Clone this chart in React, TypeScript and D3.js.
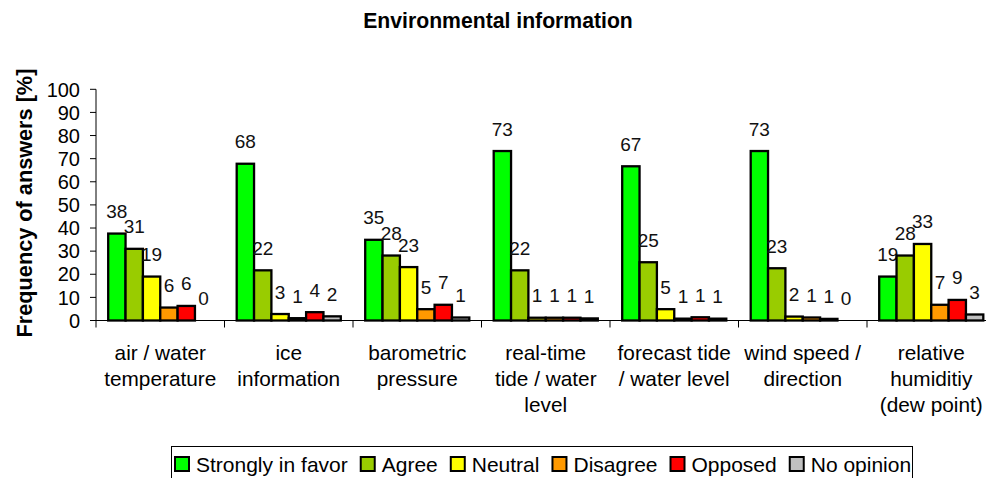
import React from "react";
import * as d3 from "d3";

const title = "Environmental information";
const yAxisTitle = "Frequency of answers [%]";
const categories = [
  "air / water\ntemperature",
  "ice\ninformation",
  "barometric\npressure",
  "real-time\ntide / water\nlevel",
  "forecast tide\n/ water level",
  "wind speed /\ndirection",
  "relative\nhumiditiy\n(dew point)",
];
const seriesNames = ["Strongly in favor", "Agree", "Neutral", "Disagree", "Opposed", "No opinion"];
const seriesColors = ["#00FF00", "#99CC00", "#FFFF00", "#FF9900", "#FF0000", "#C0C0C0"];
const stronglyInFavor = [37.6, 67.8, 34.9, 73.3, 66.7, 73.3, 19.0];
const agree = [31.0, 21.7, 28.1, 21.7, 25.2, 22.6, 28.1];
const neutral = [19.0, 2.8, 23.1, 1.2, 4.9, 1.7, 33.1];
const disagree = [5.6, 1.0, 4.9, 1.2, 0.8, 1.3, 6.8];
const opposed = [6.3, 3.6, 6.8, 1.2, 1.4, 0.7, 8.9];
const noOpinion = [0, 1.8, 1.3, 0.9, 0.8, 0, 2.6];
const yTicks = [0, 10, 20, 30, 40, 50, 60, 70, 80, 90, 100];

const seriesValues = [stronglyInFavor, agree, neutral, disagree, opposed, noOpinion];

const W = 986;
const H = 478;
const FONT = '"Liberation Sans", Arial, sans-serif';

function measure(text: string, size: number, weight = "normal") {
  const c = document.createElement("canvas").getContext("2d");
  if (!c) return text.length * size * 0.5;
  c.font = `${weight} ${size}px ${FONT}`;
  return c.measureText(text).width;
}

export default function App() {
  const plotLeft = 96;
  const bandW = 128.5;
  const x = d3
    .scaleBand<number>()
    .domain(categories.map((_, i) => i))
    .range([plotLeft, plotLeft + bandW * categories.length])
    .padding(0);
  const inner = d3
    .scaleBand<number>()
    .domain(seriesNames.map((_, i) => i))
    .range([12.2, bandW - 12.2])
    .padding(0);
  const y = d3.scaleLinear().domain([0, 100]).range([320.5, 89.3]);

  // legend layout
  const legFont = 21;
  const sq = 14;
  let lx = 175;
  const legendItems = seriesNames.map((name, i) => {
    const item = { name, color: seriesColors[i], x: lx };
    lx += 21 + measure(name, legFont) + 13;
    return item;
  });

  return (
    <svg
      width={W}
      height={H}
      style={{ position: "absolute", left: 0, top: 0, background: "#fff" }}
      fontFamily={FONT}
    >
      <rect x={0} y={0} width={W} height={H} fill="#fff" />
      <text x={498} y={28} textAnchor="middle" fontWeight="bold" fontSize={21.2} fill="#000">
        {title}
      </text>
      <text
        transform={`translate(31.5, 203) rotate(-90)`}
        textAnchor="middle"
        fontWeight="bold"
        fontSize={21.7}
        fill="#000"
      >
        {yAxisTitle}
      </text>

      {/* y axis */}
      <line x1={plotLeft} x2={plotLeft} y1={y(100)} y2={y(0)} stroke="#000" strokeWidth={1} />
      {yTicks.map((t) => (
        <g key={t}>
          <line x1={plotLeft - 6} x2={plotLeft} y1={y(t)} y2={y(t)} stroke="#000" />
          <text x={80} y={y(t)} dy="0.36em" textAnchor="end" fontSize={20} fill="#000">
            {t}
          </text>
        </g>
      ))}

      {/* bars */}
      {categories.map((_, ci) => (
        <g key={ci}>
          {seriesValues.map((vals, si) => {
            const v = vals[ci];
            const bx = (x(ci) as number) + (inner(si) as number);
            const bw = inner.bandwidth();
            return (
              <g key={si}>
                {v > 0 && (
                  <rect
                    x={bx}
                    y={y(v)}
                    width={bw}
                    height={y(0) - y(v)}
                    fill={seriesColors[si]}
                    stroke="#000"
                    strokeWidth={2.3}
                  />
                )}
                <text
                  x={bx + bw / 2}
                  y={y(v) - 15.5}
                  textAnchor="middle"
                  fontSize={19}
                  fill="#111"
                >
                  {Math.round(v)}
                </text>
              </g>
            );
          })}
        </g>
      ))}

      {/* x axis */}
      <line x1={plotLeft} x2={W} y1={y(0)} y2={y(0)} stroke="#000" strokeWidth={1} />
      {d3.range(categories.length + 1).map((i) => (
        <line
          key={i}
          x1={plotLeft + i * bandW}
          x2={plotLeft + i * bandW}
          y1={y(0)}
          y2={y(0) + 7}
          stroke="#000"
        />
      ))}
      {categories.map((c, ci) => (
        <text
          key={ci}
          x={(x(ci) as number) + x.bandwidth() / 2}
          y={359.5}
          textAnchor="middle"
          fontSize={20.8}
          fill="#000"
        >
          {c.split("\n").map((line, li) => (
            <tspan key={li} x={(x(ci) as number) + x.bandwidth() / 2} dy={li === 0 ? 0 : 26.4}>
              {line}
            </tspan>
          ))}
        </text>
      ))}

      {/* legend */}
      <rect x={171.5} y={446.5} width={741} height={40} fill="#fff" stroke="#000" strokeWidth={1} />
      {legendItems.map((it) => (
        <g key={it.name}>
          <rect
            x={it.x}
            y={457}
            width={sq}
            height={sq}
            fill={it.color}
            stroke="#000"
            strokeWidth={2}
          />
          <text x={it.x + 21} y={471.5} fontSize={legFont} fill="#000">
            {it.name}
          </text>
        </g>
      ))}
    </svg>
  );
}
